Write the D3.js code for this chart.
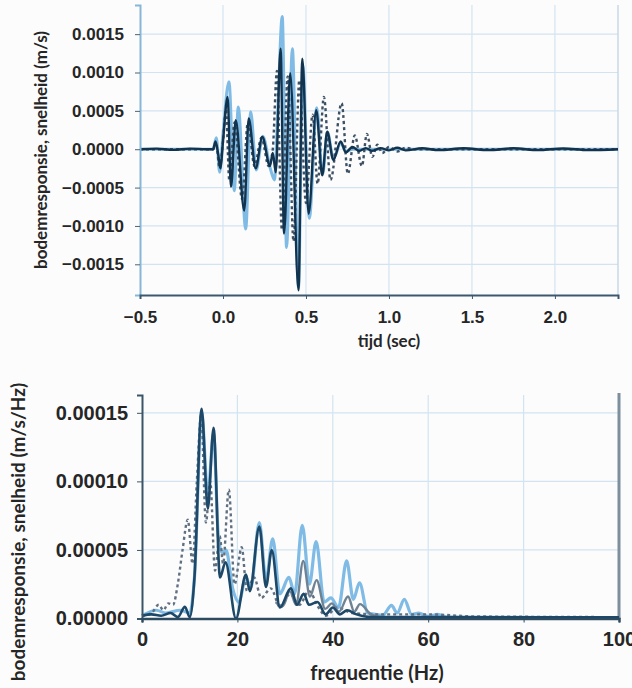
<!DOCTYPE html>
<html><head><meta charset="utf-8">
<script src="https://cdn.jsdelivr.net/npm/d3@7"></script>
<style>
html,body{margin:0;padding:0;background:#fcfcfd;}
svg{display:block;font-family:Lato,"Open Sans",sans-serif;}
</style></head>
<body><svg id="c" width="632" height="688"></svg>
<script>
// ---------- Top chart: time series (t in s, v in m/s) ----------
const tDark = [-0.5,-0.4,-0.3,-0.2,-0.1,-0.06,-0.045,-0.03,-0.015,0.0,0.028,0.048,0.077,0.128,0.155,0.197,0.237,0.283,0.3,0.318,0.347,0.368,0.405,0.455,0.478,0.516,0.562,0.598,0.628,0.665,0.709,0.74,0.78,0.82,0.86,0.9,0.95,1.0,1.05,1.1,1.2,1.3,1.45,1.6,1.75,1.9,2.05,2.2,2.38];
const vDark = [0,0.000008,-0.000008,0.000008,0,0,0.0001,-0.00005,-0.00025,0.0001,0.00068,-0.00049,0.00038,-0.0008,0.0004,-0.00025,0.00016,-0.00022,-0.00005,-0.0003,0.00131,-0.0011,0.00099,-0.00184,0.00118,-0.00084,0.00051,-0.00034,0.00023,-0.00014,0.0001,-0.00004,0.00003,-0.00002,0.000015,-0.00002,0.000015,-0.000015,0.00002,-0.000015,0.000012,-0.000012,0.000012,-0.000012,0.000012,-0.000012,0.00001,-0.000012,0];
const tBlue = [-0.5,-0.06,-0.04,-0.02,0.0,0.036,0.068,0.092,0.137,0.167,0.2,0.24,0.285,0.31,0.33,0.357,0.383,0.418,0.455,0.48,0.52,0.565,0.6,0.63,0.665,0.71,0.74,0.78,2.38];
const vBlue = [0,0,0.00015,-0.0003,0.0002,0.00088,-0.00054,0.00055,-0.00104,0.00049,-0.00027,0.00017,-0.00025,-0.0004,0.0005,0.00173,-0.00128,0.00131,-0.0018,0.0011,-0.0009,0.00054,-0.00033,0.00022,-0.00012,0.00008,-0.00003,0,0];
const tDash = [-0.5,-0.06,-0.04,-0.02,0.0,0.018,0.038,0.07,0.115,0.15,0.19,0.232,0.275,0.3,0.325,0.355,0.39,0.425,0.46,0.5,0.54,0.57,0.608,0.648,0.715,0.752,0.794,0.837,0.867,0.9,0.93,0.96,1.0,1.05,1.1,1.15,2.38];
const vDash = [0,0,0.00005,-0.00025,0.0001,0.00052,-0.0004,0.00035,-0.00065,0.00035,-0.00022,0.00015,-0.00022,0.0,0.00102,-0.00105,0.00095,-0.0012,0.0009,-0.0007,0.00045,-0.00045,0.00068,-0.0004,0.0006,-0.00032,0.00018,-0.00022,0.0002,-0.0001,0.00006,-0.00005,0.00003,-0.00003,0.00002,0,0];
const topXTicks = [-0.5,0.0,0.5,1.0,1.5,2.0];
const topYTicks = [-0.0015,-0.0010,-0.0005,0.0,0.0005,0.0010,0.0015];

// ---------- Bottom chart: spectrum (f in Hz, a in m/s/Hz) ----------
const fDark = [0,2,4,6,7.5,9,10,11,12.5,13.8,15,16.35,17.5,19.7,21.8,22.6,24.6,26,27.2,28.9,31.2,32.5,33.9,35,36.8,38.5,40,41.5,43,45,48,60,80,100];
const aDark = [0.000002,0.000003,0.000002,0.000004,0.000001,0.0000085,0.000001,0.00003,0.000153,0.00008,0.000139,0.00003,0.000041,0.0,0.000032,0.00002,0.000067,0.000023,0.00005,0.000008,0.000022,0.00001,0.000018,0.00001,0.000012,0.000003,0.000008,0.000003,0.000006,0.000003,0.000001,0.000001,0.0000008,0.0000008];
const fBlue = [0,3,5,8,10,11,12.5,13.8,15,16,16.8,17.6,19,20.3,21.8,22.8,24.6,26,27.4,28.9,30.8,32,33.6,35.1,36.5,38.2,39.6,41.2,42.9,44.3,45.6,47.3,49,50.5,52.3,53.5,55,56.5,58,60,62,64,100];
const aBlue = [0.000002,0.000006,0.000004,0.000006,0.000004,0.00003,0.00015,0.00009,0.000135,0.00006,0.000048,0.00005,0.000022,0.000012,0.00003,0.000022,0.00007,0.000028,0.000058,0.000018,0.00003,0.000018,0.000068,0.000025,0.000056,0.000012,0.000015,0.000008,0.000042,0.000014,0.000026,0.000004,0.000003,0.0000025,0.0000095,0.000004,0.000014,0.000003,0.000004,0.0000015,0.000003,0.000001,0.0000005];
const fGrey = [28,29.5,31,32.3,33.8,35.2,36.6,38.4,39.8,41.3,43.2,44.5,45.7,48,50];
const aGrey = [0.000012,0.000009,0.00002,0.00001,0.000042,0.000016,0.000028,0.000007,0.000011,0.000005,0.000016,0.000005,0.0000105,0.000003,0.000001];
const fDash = [0,2,3.5,4.5,5.5,6.5,7.5,8.5,9.6,10.6,11.5,12.4,13.4,14.3,15.3,16.3,17,18.2,19.4,20.9,22,23.5,25,27,29,31,33,35,37,38.5,41,44,50,60,70,100];
const aDash = [0.000002,0.000004,0.00001,0.000006,0.000011,0.00001,0.000025,0.00005,0.000072,0.00004,0.0001,0.000148,0.00007,0.0001,0.000035,0.00006,0.00004,0.000094,0.000025,0.000052,0.00002,0.00003,0.000015,0.000022,0.000008,0.000018,0.00001,0.00002,0.000008,0.000002,0.000008,0.000004,0.000003,0.000003,0.0000015,0.000001];
const botXTicks = [0,20,40,60,80,100];
const botYTicks = [0,0.00005,0.00010,0.00015];

const svg = d3.select("#c");
const C = {blue:"#7fbbe4", dark:"#12334e", grey:"#6f8293", dash:"#3e5164", grid:"#d3e4f1", txt:"#262626"};

function zip(a,b){return a.map((v,i)=>[v,b[i]]);}

// ===== TOP =====
const xT = d3.scaleLinear().domain([-0.5,2.38]).range([140,618]);
const yT = d3.scaleLinear().domain([-0.0019,0.00188]).range([295,5]);
const gT = svg.append("g");
gT.append("g").selectAll("line").data(topXTicks.slice(1)).join("line")
  .attr("x1",d=>xT(d)).attr("x2",d=>xT(d)).attr("y1",5).attr("y2",295)
  .attr("stroke",C.grid).attr("stroke-width",1.2);
gT.append("g").selectAll("line").data(topYTicks).join("line")
  .attr("x1",140).attr("x2",618).attr("y1",d=>yT(d)).attr("y2",d=>yT(d))
  .attr("stroke",C.grid).attr("stroke-width",1.2);
gT.append("line").attr("x1",618).attr("x2",618).attr("y1",5).attr("y2",295).attr("stroke","#c9d9e6").attr("stroke-width",1.5);

const lineT = d3.line().x(d=>xT(d[0])).y(d=>yT(d[1])).curve(d3.curveMonotoneX);
gT.append("path").datum(zip(tBlue,vBlue)).attr("d",lineT).attr("fill","none").attr("stroke",C.blue).attr("stroke-width",3);
gT.append("path").datum(zip(tDash,vDash)).attr("d",lineT).attr("fill","none").attr("stroke",C.dash).attr("stroke-width",2.4).attr("stroke-dasharray","3,3");
gT.append("path").datum(zip(tDark,vDark)).attr("d",lineT).attr("fill","none").attr("stroke",C.dark).attr("stroke-width",2.4);

const axYT = gT.append("g").attr("transform","translate(140,0)")
  .call(d3.axisLeft(yT).tickValues(topYTicks).tickFormat(d3.format(".4f")).tickSize(5).tickPadding(11));
axYT.select(".domain").attr("stroke","#88b6d6").attr("stroke-width",2);
axYT.selectAll(".tick line").attr("stroke","#4a6478");
axYT.selectAll("text").attr("font-size",17).attr("font-weight",700).attr("fill",C.txt);
const axXT = gT.append("g").attr("transform","translate(0,295)")
  .call(d3.axisBottom(xT).tickValues(topXTicks).tickFormat(d3.format(".1f")).tickSize(4).tickPadding(12));
axXT.select(".domain").attr("stroke","#3c5870").attr("stroke-width",2);
axXT.selectAll(".tick line").attr("stroke","#3c5870");
axXT.selectAll("text").attr("font-size",17).attr("font-weight",700).attr("fill",C.txt);
gT.append("text").attr("x",389).attr("y",347).attr("text-anchor","middle").attr("font-size",17).attr("font-weight",700).attr("fill",C.txt).text("tijd (sec)");
gT.append("text").attr("transform","translate(47,150) rotate(-90)").attr("text-anchor","middle").attr("font-size",17).attr("font-weight",700).attr("fill",C.txt).text("bodemresponsie, snelheid (m/s)");

// ===== BOTTOM =====
const xB = d3.scaleLinear().domain([0,100]).range([142,619]);
const yB = d3.scaleLinear().domain([0,0.000163]).range([618.5,395]);
const gB = svg.append("g");
gB.append("g").selectAll("line").data(botXTicks.slice(1,5)).join("line")
  .attr("x1",d=>xB(d)).attr("x2",d=>xB(d)).attr("y1",395).attr("y2",618)
  .attr("stroke",C.grid).attr("stroke-width",1.2);
gB.append("g").selectAll("line").data(botYTicks.slice(1)).join("line")
  .attr("x1",142).attr("x2",619).attr("y1",d=>yB(d)).attr("y2",d=>yB(d))
  .attr("stroke",C.grid).attr("stroke-width",1.2);
gB.append("line").attr("x1",619).attr("x2",619).attr("y1",393).attr("y2",619).attr("stroke","#7d8f9d").attr("stroke-width",3);

const lineB = d3.line().x(d=>xB(d[0])).y(d=>yB(d[1])).curve(d3.curveMonotoneX);
gB.append("path").datum(zip(fBlue,aBlue)).attr("d",lineB).attr("fill","none").attr("stroke",C.blue).attr("stroke-width",3.2);
gB.append("path").datum(zip(fDash,aDash)).attr("d",lineB).attr("fill","none").attr("stroke","#607080").attr("stroke-width",2.4).attr("stroke-dasharray","3,3");
gB.append("path").datum(zip(fGrey,aGrey)).attr("d",lineB).attr("fill","none").attr("stroke",C.grey).attr("stroke-width",2.4);
gB.append("path").datum(zip(fDark,aDark)).attr("d",lineB).attr("fill","none").attr("stroke","#1d4868").attr("stroke-width",2.6);

const axYB = gB.append("g").attr("transform","translate(142,0)")
  .call(d3.axisLeft(yB).tickValues(botYTicks).tickFormat(d3.format(".5f")).tickSize(5).tickPadding(9));
axYB.select(".domain").attr("stroke","#3a5569").attr("stroke-width",2);
axYB.selectAll(".tick line").attr("stroke","#3a5569");
axYB.selectAll("text").attr("font-size",20).attr("font-weight",700).attr("fill",C.txt);
const axXB = gB.append("g").attr("transform","translate(0,618.5)")
  .call(d3.axisBottom(xB).tickValues(botXTicks).tickFormat(d3.format("d")).tickSize(4).tickPadding(9));
axXB.select(".domain").attr("stroke","#2c4a60").attr("stroke-width",2.5);
axXB.selectAll(".tick line").attr("stroke","#2c4a60");
axXB.selectAll("text").attr("font-size",20).attr("font-weight",700).attr("fill",C.txt);
gB.append("text").attr("x",377).attr("y",680).attr("text-anchor","middle").attr("font-size",20).attr("font-weight",700).attr("fill",C.txt).text("frequentie (Hz)");
gB.append("text").attr("transform","translate(25,532) rotate(-90)").attr("text-anchor","middle").attr("font-size",19).attr("font-weight",700).attr("fill",C.txt).text("bodemresponsie, snelheid (m/s/Hz)");
</script></body></html>
